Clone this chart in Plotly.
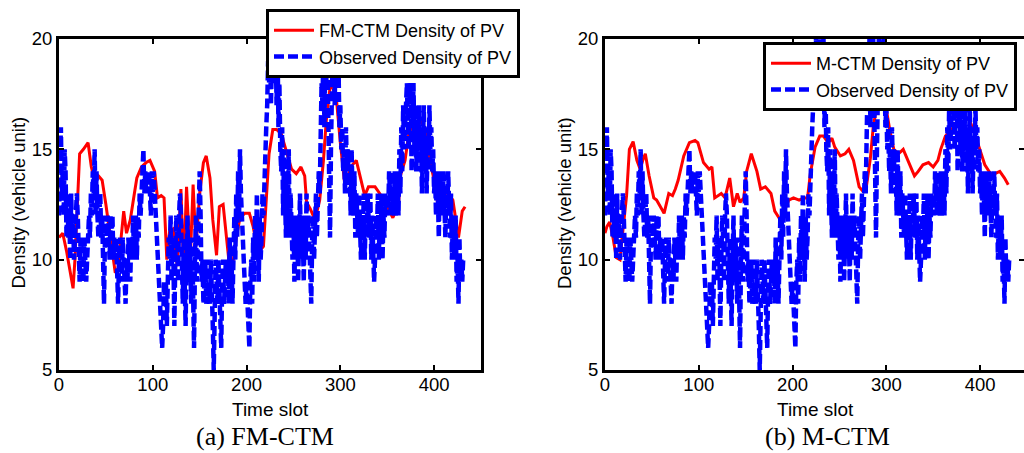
import plotly.graph_objects as go

# ---------------- data ----------------
# Observed density of PV, one value per time slot (t = 0 .. 431)
observed = [
    12, 15, 16, 13, 14, 12, 15, 14, 11, 13,
    11, 12, 10, 13, 11, 12, 10, 11, 12, 13,
    12, 10, 9, 11, 9, 10, 9, 11, 10, 9,
    10, 11, 12, 11, 13, 12, 14, 13, 15, 12,
    14, 12, 11, 12, 13, 11, 12, 10, 8, 11,
    12, 11, 12, 11, 10, 12, 11, 12, 10, 11,
    10, 11, 9, 8, 10, 11, 10, 9, 11, 10,
    9, 8, 10, 9, 11, 10, 9, 11, 10, 12,
    10, 11, 12, 10, 12, 11, 13, 12, 13, 14,
    15, 13, 14, 13, 14, 13, 14, 13, 12, 14,
    13, 14, 13, 12, 12, 11, 10, 9, 8, 7,
    6, 7, 9, 8, 9, 7, 10, 11, 10, 12,
    9, 11, 10, 7, 10, 12, 11, 9, 12, 13,
    12, 10, 8, 11, 9, 7, 10, 12, 9, 11,
    10, 8, 11, 9, 6, 10, 12, 9, 11, 13,
    14, 12, 9, 10, 8, 9, 10, 8, 9, 10,
    9, 8, 10, 9, 7, 5, 8, 10, 9, 8,
    10, 9, 8, 6, 9, 10, 8, 9, 10, 9,
    10, 8, 11, 9, 10, 8, 11, 12, 10, 13,
    11, 14, 12, 15, 13, 12, 11, 10, 9, 8,
    9, 8, 7, 6, 9, 10, 8, 11, 9, 12,
    10, 13, 11, 9, 12, 10, 11, 13, 12, 14,
    14, 16, 17, 19, 18, 20, 17, 19, 18, 20,
    19, 20, 17, 20, 16, 18, 15, 14, 16, 12,
    15, 13, 11, 14, 12, 15, 11, 13, 12, 10,
    12, 9, 11, 10, 12, 9, 11, 13, 10, 12,
    11, 9, 12, 10, 13, 11, 12, 10, 9, 8,
    11, 12, 10, 12, 13, 11, 12, 14, 13, 16,
    18, 17, 20, 16, 19, 18, 20, 17, 14, 11,
    15, 18, 20, 19, 17, 20, 18, 20, 19, 16,
    17, 15, 16, 14, 15, 13, 16, 14, 15, 13,
    14, 12, 15, 13, 12, 14, 11, 13, 12, 11,
    13, 12, 10, 12, 11, 13, 10, 12, 11, 13,
    12, 11, 13, 10, 12, 11, 9, 10, 12, 11,
    13, 10, 12, 11, 13, 10, 12, 11, 13, 12,
    13, 12, 14, 13, 12, 14, 13, 12, 14, 12,
    13, 14, 12, 15, 13, 16, 14, 17, 15, 16,
    17, 18, 16, 15, 17, 18, 14, 16, 18, 15,
    17, 14, 16, 15, 17, 14, 16, 13, 15, 17,
    14, 16, 13, 15, 14, 17, 15, 16, 14, 15,
    13, 14, 12, 14, 13, 11, 14, 12, 13, 12,
    14, 12, 11, 13, 12, 14, 12, 11, 13, 10,
    12, 11, 10, 12, 9, 10, 8, 11, 9, 10,
    9, 10,
]
obs_t = list(range(len(observed)))

# FM-CTM model density (time slot, value)
fm_t = [0, 4, 8, 11, 15, 17, 20, 22, 26, 31, 34.5, 38, 42, 46, 50, 55, 60, 63, 66, 69,
        72, 76, 80, 83, 88, 93, 97, 102, 105, 109, 112, 115, 118, 122, 126, 130, 133, 136,
        140, 143, 146, 150, 154, 157, 161, 164, 168, 171, 175, 179, 182, 186, 189, 193,
        198, 203, 207, 211, 214, 218, 221, 224, 228, 232, 237, 242, 248, 253, 258, 262,
        264, 268, 273, 278, 282, 285, 289, 292, 296, 300, 305, 308, 313, 317, 321, 326,
        330, 337, 342, 349, 356, 362, 364, 369, 373, 378, 385, 390, 394, 399, 404, 410,
        415, 420, 426, 430, 433]
fm_v = [11.0, 11.2, 10.4, 9.6, 8.7, 10.0, 13.0, 14.8, 15.0, 15.3, 14.2, 13.6, 13.8, 13.6,
        12.5, 11.0, 9.4, 9.6, 10.8, 12.2, 11.2, 11.8, 12.9, 13.7, 14.2, 14.4, 14.5, 14.0,
        12.8, 12.9, 12.8, 10.0, 11.3, 11.4, 9.7, 13.2, 9.6, 13.3, 10.0, 13.4, 10.6, 13.0,
        14.4, 14.7, 13.7, 11.8, 10.2, 12.4, 12.5, 10.7, 9.6, 10.0, 11.0, 11.9, 12.1, 12.1,
        11.5, 10.6, 10.4, 10.6, 12.7, 14.8, 15.9, 15.9, 15.7, 15.0, 14.1, 13.9, 14.2, 13.8,
        12.6, 12.3, 11.8, 12.7, 14.5, 16.3, 17.8, 17.8, 17.2, 15.3, 13.3, 13.8, 14.3, 14.5,
        13.8, 12.9, 13.3, 13.3, 13.0, 12.5, 11.9, 12.5, 13.8, 14.5, 15.7, 16.2, 16.3, 16.0,
        14.8, 13.8, 12.5, 12.4, 13.0, 12.7, 11.0, 12.2, 12.4]

# M-CTM model density (time slot, value)
m_t = [0, 2, 5, 8.5, 12, 16, 19, 23, 26, 30, 34, 37.5, 41, 43, 47, 52, 55, 59, 63, 68, 72,
       75, 78, 84, 90, 96, 99, 105, 111, 114, 117, 124, 128, 133, 137, 141, 144, 148, 151,
       156, 162, 166, 171, 177, 181, 187, 190, 196, 201, 207, 212, 216, 219, 224, 229, 233,
       238, 242, 245, 251, 256, 260, 265, 271, 275, 279, 283, 286, 290, 295, 300, 304, 308,
       313, 318, 323, 330, 334, 339, 345, 350, 355, 358, 363, 368, 373, 379, 384, 389, 395,
       400, 405, 411, 416, 421, 426, 430]
m_v = [11.2, 11.5, 11.7, 11.0, 10.1, 10.0, 11.3, 12.9, 15.0, 15.35, 14.5, 14.1, 14.6, 14.8,
       13.8, 12.8, 12.7, 12.4, 12.1, 13.0, 12.9, 13.2, 13.6, 14.7, 15.3, 15.4, 15.3, 14.4,
       14.1, 14.2, 12.8, 13.0, 12.8, 13.7, 12.4, 13.0, 12.6, 12.8, 14.0, 14.8, 14.0, 13.2,
       13.3, 13.0, 12.2, 11.8, 12.1, 12.7, 12.8, 12.7, 12.8, 12.8, 13.9, 15.1, 15.6, 15.6,
       15.3, 15.5, 15.1, 14.7, 14.8, 15.0, 14.5, 13.3, 13.1, 13.4, 14.6, 16.0, 17.0, 17.2,
       16.8, 15.8, 15.0, 14.8, 15.0, 14.5, 13.8, 14.0, 14.3, 14.4, 14.2, 14.5, 15.0, 15.6,
       15.8, 16.1, 16.6, 16.5, 16.3, 15.6, 14.9, 14.3, 13.9, 13.9, 14.0, 13.7, 13.4]

x_ticks = [0, 100, 200, 300, 400]
y_ticks = [5, 10, 15, 20]

# ---------------- figure ----------------
W, H = 1024, 453
RED = "#ff0000"
BLUE = "#0000ff"
SANS = "Liberation Sans, Arial, sans-serif"
SERIF = "Liberation Serif, Times New Roman, serif"

fig = go.Figure()
fig.add_trace(go.Scatter(x=fm_t, y=fm_v, mode="lines", name="FM-CTM Density of PV",
                         line=dict(color=RED, width=3), xaxis="x", yaxis="y", legend="legend"))
fig.add_trace(go.Scatter(x=obs_t, y=observed, mode="lines", name="Observed Density of PV",
                         line=dict(color=BLUE, width=4.5, dash="10px,4px"),
                         xaxis="x", yaxis="y", legend="legend"))
fig.add_trace(go.Scatter(x=m_t, y=m_v, mode="lines", name="M-CTM Density of PV",
                         line=dict(color=RED, width=3), xaxis="x2", yaxis="y2", legend="legend2"))
fig.add_trace(go.Scatter(x=obs_t, y=observed, mode="lines", name="Observed Density of PV",
                         line=dict(color=BLUE, width=4.5, dash="10px,4px"),
                         xaxis="x2", yaxis="y2", legend="legend2"))
# invisible helper so the right-hand tick axis of panel (b) is drawn
fig.add_trace(go.Scatter(x=[None], y=[None], xaxis="x2", yaxis="y3", showlegend=False,
                         hoverinfo="skip"))

px_per_unit = (481 - 59) / 450.0
right_max = (W - 605) / px_per_unit

ydom = [1 - 370 / H, 1 - 39 / H]
common = dict(showgrid=False, zeroline=False, showline=True, linecolor="black", linewidth=3,
              ticks="inside", ticklen=5, tickwidth=2, tickcolor="black", automargin=False,
              tickfont=dict(family=SANS, size=18.5, color="black"))

leg_common = dict(xanchor="left", yanchor="top", bgcolor="white", bordercolor="black",
                  borderwidth=3, font=dict(family=SANS, size=18, color="black"),
                  tracegroupgap=0, itemwidth=40)

fig.update_layout(
    template="none",
    width=W, height=H, margin=dict(l=0, r=0, t=0, b=0, pad=0, autoexpand=False),
    paper_bgcolor="white", plot_bgcolor="white",
    xaxis=dict(domain=[59 / W, 481 / W], range=[0, 450], anchor="y", tickvals=x_ticks,
               mirror="ticks", ticklabelstandoff=-4, **common),
    yaxis=dict(domain=ydom, range=[5, 20], anchor="x", tickvals=y_ticks, mirror="ticks", **common),
    xaxis2=dict(domain=[605 / W, 1.0], range=[0, right_max], anchor="y2", tickvals=x_ticks,
                mirror="ticks", ticklabelstandoff=-4, **common),
    yaxis2=dict(domain=ydom, range=[5, 20], anchor="x2", tickvals=y_ticks, mirror=False, **common),
    yaxis3=dict(overlaying="y2", side="right", anchor="free", position=1.0, range=[5, 20],
                tickvals=y_ticks, showticklabels=False, showline=False, showgrid=False,
                zeroline=False, ticks="inside", ticklen=5, tickwidth=2, tickcolor="black",
                automargin=False),
    legend=dict(x=266 / W, y=1 - 9 / H, **leg_common),
    legend2=dict(x=763 / W, y=1 - 42 / H, **leg_common),
    showlegend=True,
)

ann_font = dict(family=SANS, size=19, color="black")
annotations = [
    dict(text="Time slot", x=270 / W, y=1 - 409 / H),
    dict(text="Time slot", x=815 / W, y=1 - 409 / H),
    dict(text="Density (vehicle unit)", x=17.5 / W, y=1 - 203 / H, textangle=-90,
         font=dict(family=SANS, size=18.5, color="black")),
    dict(text="Density (vehicle unit)", x=564 / W, y=1 - 203 / H, textangle=-90,
         font=dict(family=SANS, size=18.5, color="black")),
]
for a in annotations:
    a.setdefault("font", ann_font)
    fig.add_annotation(xref="paper", yref="paper", xanchor="center", yanchor="middle",
                       showarrow=False, **a)
cap_font = dict(family=SERIF, size=26, color="black")
fig.add_annotation(text="(a) FM-CTM", x=265 / W, y=1 - 436 / H, xref="paper", yref="paper",
                   xanchor="center", yanchor="middle", showarrow=False, font=cap_font)
fig.add_annotation(text="(b) M-CTM", x=827 / W, y=1 - 436 / H, xref="paper", yref="paper",
                   xanchor="center", yanchor="middle", showarrow=False, font=cap_font)

fig.write_html("out.html")
